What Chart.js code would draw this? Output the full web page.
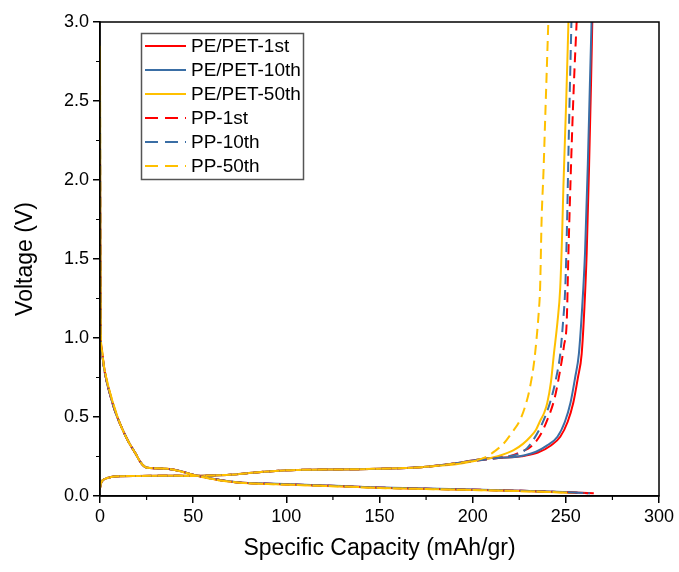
<!DOCTYPE html>
<html>
<head>
<meta charset="utf-8">
<script src="https://cdn.jsdelivr.net/npm/chart.js@4.4.1/dist/chart.umd.min.js"></script>
<style>
  html, body { margin: 0; padding: 0; background: #fff; }
  #wrap { width: 679px; height: 572px; }
</style>
</head>
<body>
<div id="wrap"><canvas id="cycles"></canvas></div>
<script>
// series names, as in the legend
var seriesLabels = ['PE/PET-1st', 'PE/PET-10th', 'PE/PET-50th', 'PP-1st', 'PP-10th', 'PP-50th'];

// x tick labels and y tick labels
var xTicks = [0, 50, 100, 150, 200, 250, 300];
var yTicks = [0.0, 0.5, 1.0, 1.5, 2.0, 2.5, 3.0];

// discharge curves, [capacity mAh/g, voltage V]
var pePet1stDis = [[0,2.25],[0.15,1.5],[0.4,1.02],[1,0.92],[2,0.83],[3.5,0.73],[5,0.66],[8,0.54],[11,0.45],[15,0.35],[19,0.27],[22,0.21],[25,0.18],[30,0.175],[38,0.17],[44,0.155],[50,0.135],[56,0.12],[65,0.1],[75,0.085],[90,0.078],[110,0.07],[130,0.062],[150,0.053],[175,0.046],[200,0.04],[225,0.033],[245,0.026],[265,0.017]];
var pePet10thDis = [[0,2.6],[0.15,1.6],[0.4,1.0],[1,0.91],[2,0.82],[3.5,0.73],[5,0.66],[8,0.54],[11,0.45],[15,0.35],[19,0.27],[22,0.21],[25,0.18],[30,0.175],[38,0.17],[44,0.155],[50,0.134],[56,0.12],[65,0.1],[75,0.086],[90,0.079],[110,0.071],[130,0.063],[150,0.054],[175,0.047],[200,0.041],[225,0.034],[245,0.027],[263,0.018]];
var pePet50thDis = [[0,2.85],[0.15,1.7],[0.4,1.03],[1,0.93],[2,0.83],[3.5,0.74],[5,0.67],[8,0.55],[11,0.45],[15,0.35],[19,0.27],[22,0.21],[25,0.18],[30,0.176],[38,0.17],[44,0.154],[50,0.133],[56,0.118],[65,0.098],[75,0.084],[90,0.076],[110,0.068],[130,0.06],[150,0.051],[175,0.044],[200,0.038],[225,0.031],[245,0.024],[255,0.02]];
var pp1stDis = [[0,2.2],[0.15,1.5],[0.4,1.0],[1,0.92],[2,0.82],[3.5,0.73],[5,0.66],[8,0.54],[11,0.45],[15,0.35],[19,0.27],[22,0.21],[25,0.18],[30,0.175],[38,0.17],[44,0.155],[50,0.135],[56,0.12],[65,0.1],[75,0.085],[90,0.078],[110,0.07],[130,0.062],[150,0.053],[175,0.046],[200,0.04],[225,0.033],[245,0.026],[262,0.018]];
var pp10thDis = [[0,2.5],[0.15,1.55],[0.4,1.0],[1,0.91],[2,0.82],[3.5,0.73],[5,0.66],[8,0.54],[11,0.45],[15,0.35],[19,0.27],[22,0.21],[25,0.18],[30,0.175],[38,0.17],[44,0.155],[50,0.134],[56,0.12],[65,0.1],[75,0.085],[90,0.078],[110,0.07],[130,0.062],[150,0.053],[175,0.046],[200,0.04],[225,0.033],[245,0.026],[260,0.019]];
var pp50thDis = [[0,2.8],[0.15,1.65],[0.4,1.02],[1,0.92],[2,0.83],[3.5,0.74],[5,0.67],[8,0.55],[11,0.45],[15,0.35],[19,0.27],[22,0.21],[25,0.18],[30,0.176],[38,0.17],[44,0.154],[50,0.133],[56,0.118],[65,0.098],[75,0.084],[90,0.076],[110,0.068],[130,0.06],[150,0.051],[175,0.044],[200,0.038],[225,0.031],[250,0.022]];

// charge curves, [capacity mAh/g, voltage V]
var pePet1stChg = [[0,0.05],[0.5,0.08],[1.5,0.1],[3,0.11],[6,0.12],[10,0.125],[20,0.127],[35,0.128],[50,0.127],[60,0.13],[70,0.135],[80,0.145],[90,0.155],[100,0.163],[120,0.167],[140,0.17],[160,0.175],[175,0.185],[190,0.205],[200,0.225],[210,0.24],[220,0.245],[228,0.255],[235,0.275],[242,0.32],[247,0.375],[251,0.47],[254,0.59],[256.5,0.75],[258.5,0.9],[260,1.2],[261.2,1.54],[262.5,2.1],[263.5,2.6],[264.2,3.0]];
var pePet10thChg = [[0,0.05],[0.5,0.08],[1.5,0.1],[3,0.11],[6,0.12],[10,0.125],[20,0.127],[35,0.128],[50,0.127],[60,0.13],[70,0.135],[80,0.145],[90,0.155],[100,0.163],[120,0.167],[140,0.17],[160,0.175],[175,0.185],[190,0.205],[200,0.225],[210,0.24],[221,0.245],[228,0.258],[234,0.28],[240,0.32],[245.5,0.375],[249.5,0.47],[252.5,0.59],[255,0.75],[257,0.9],[258.8,1.2],[260.3,1.54],[261.8,2.1],[262.9,2.6],[263.8,3.0]];
var pePet50thChg = [[0,0.05],[0.5,0.08],[1.5,0.1],[3,0.11],[6,0.12],[10,0.125],[20,0.127],[35,0.128],[50,0.127],[60,0.13],[70,0.135],[80,0.145],[90,0.155],[100,0.163],[120,0.167],[140,0.17],[160,0.176],[170,0.18],[180,0.19],[190,0.2],[198,0.215],[204,0.228],[213,0.25],[218,0.27],[222,0.29],[227,0.33],[231,0.375],[234,0.42],[236,0.47],[238.5,0.53],[240,0.587],[242,0.72],[243.6,0.9],[245.5,1.1],[247,1.32],[248,1.65],[248.7,1.96],[250.2,2.5],[251.4,3.0]];
var pp1stChg = [[0,0.05],[0.5,0.08],[1.5,0.1],[3,0.11],[6,0.12],[10,0.125],[20,0.127],[35,0.128],[50,0.127],[60,0.13],[70,0.135],[80,0.145],[90,0.155],[100,0.163],[120,0.167],[140,0.17],[160,0.175],[175,0.185],[190,0.205],[200,0.222],[210,0.235],[216,0.245],[222,0.26],[227,0.285],[231,0.31],[236,0.38],[240,0.48],[244,0.62],[247,0.8],[249,0.95],[250.5,1.11],[251.4,1.54],[253,2.17],[254.3,2.6],[255.8,3.0]];
var pp10thChg = [[0,0.05],[0.5,0.08],[1.5,0.1],[3,0.11],[6,0.12],[10,0.125],[20,0.127],[35,0.128],[50,0.127],[60,0.13],[70,0.135],[80,0.145],[90,0.155],[100,0.163],[120,0.167],[140,0.17],[160,0.175],[175,0.185],[190,0.205],[200,0.222],[210,0.235],[218,0.25],[225.5,0.27],[229,0.3],[232.5,0.354],[237,0.45],[241.5,0.59],[244.5,0.73],[247,0.9],[248.5,1.1],[249.7,1.32],[250.6,1.7],[251.4,2.17],[252.2,2.6],[253,3.0]];
var pp50thChg = [[0,0.05],[0.5,0.08],[1.5,0.1],[3,0.11],[6,0.12],[10,0.125],[20,0.127],[35,0.128],[50,0.127],[60,0.13],[70,0.135],[80,0.145],[90,0.155],[100,0.163],[120,0.167],[140,0.17],[160,0.176],[170,0.18],[180,0.19],[190,0.205],[200,0.222],[207.6,0.25],[212,0.285],[216.5,0.33],[221,0.4],[225.4,0.48],[228.5,0.58],[230.8,0.69],[233,0.85],[234.4,1.01],[235.5,1.17],[236.2,1.32],[237,1.75],[238,2.05],[238.9,2.38],[240.6,3.0]];

var discharges = [pePet1stDis, pePet10thDis, pePet50thDis, pp1stDis, pp10thDis, pp50thDis];
var charges = [pePet1stChg, pePet10thChg, pePet50thChg, pp1stChg, pp10thChg, pp50thChg];
var colors = ['#FF0000', '#3A6EA5', '#FFC000', '#FF0000', '#3A6EA5', '#FFC000'];
var dashes = [[], [], [], [10, 6], [10, 6], [10, 6]];

// discharge + gap + charge, one dataset per legend entry
function toPoints(dis, chg) {
  var pts = dis.map(function(p) {return {x: p[0], y: p[1]}});
  pts.push({x: null, y: null});
  return pts.concat(chg.map(function(p) {return {x: p[0], y: p[1]}}));
}

var FONT = '"Liberation Sans", Arial, sans-serif';

// minor ticks + frame around the plot
var framePlugin = {
  id: 'frame',
  afterDraw: function(chart) {
    var ctx = chart.ctx, a = chart.chartArea;
    var xs = chart.scales.x, ys = chart.scales.y;
    ctx.save();
    ctx.strokeStyle = '#000';
    ctx.lineWidth = 1.5;
    ctx.strokeRect(a.left, a.top, a.right - a.left, a.bottom - a.top);
    ctx.lineWidth = 1.2;
    ctx.beginPath();
    for (var i = 0; i < xTicks.length - 1; i++) {
      var px = xs.getPixelForValue((xTicks[i] + xTicks[i + 1]) / 2);
      ctx.moveTo(px, a.bottom);
      ctx.lineTo(px, a.bottom + 4);
    }
    for (var j = 0; j < yTicks.length - 1; j++) {
      var py = ys.getPixelForValue((yTicks[j] + yTicks[j + 1]) / 2);
      ctx.moveTo(a.left, py);
      ctx.lineTo(a.left - 4, py);
    }
    ctx.stroke();
    ctx.restore();
  }
};

// boxed legend inside the plot, top left
var legendPlugin = {
  id: 'boxLegend',
  afterDraw: function(chart) {
    var ctx = chart.ctx;
    var bx = 141.5, by = 33.5, bw = 162, bh = 146, row = 24, y0 = 46;
    ctx.save();
    ctx.fillStyle = '#fff';
    ctx.fillRect(bx, by, bw, bh);
    ctx.strokeStyle = '#555';
    ctx.lineWidth = 1.5;
    ctx.strokeRect(bx, by, bw, bh);
    ctx.font = '19px ' + FONT;
    ctx.textBaseline = 'middle';
    chart.data.datasets.forEach(function(ds, i) {
      var y = y0 + i * row;
      ctx.strokeStyle = ds.borderColor;
      ctx.lineWidth = 2;
      ctx.setLineDash(ds.borderDash.length ? [13, 7] : []);
      ctx.beginPath();
      ctx.moveTo(145, y);
      ctx.lineTo(186, y);
      ctx.stroke();
      ctx.setLineDash([]);
      ctx.fillStyle = '#000';
      ctx.fillText(ds.label, 191, y + 1);
    });
    ctx.restore();
  }
};

var chart = new Chart('cycles', {
  type: 'line',
  data: {
    datasets: seriesLabels.map(function(name, i) {
      return {
        label: name,
        data: toPoints(discharges[i], charges[i]),
        borderColor: colors[i],
        backgroundColor: colors[i],
        borderWidth: 2,
        borderDash: dashes[i],
        pointRadius: 0,
        fill: false,
        spanGaps: false,
        order: seriesLabels.length - i,
        cubicInterpolationMode: 'monotone'
      };
    })
  },
  options: {
    responsive: true,
    maintainAspectRatio: false,
    animation: false,
    layout: {padding: {left: 0, right: 20, top: 22, bottom: 0}},
    plugins: {legend: {display: false}, tooltip: {enabled: false}},
    scales: {
      x: {
        type: 'linear',
        min: 0,
        max: 300,
        afterFit: function(s) {s.height = 76},
        afterBuildTicks: function(s) {s.ticks = xTicks.map(function(v) {return {value: v}})},
        ticks: {color: '#000', font: {family: FONT, size: 18}, padding: 3, maxRotation: 0},
        grid: {drawOnChartArea: false, drawTicks: true, tickLength: 7, color: '#000', lineWidth: 1.5},
        border: {display: true, color: '#000', width: 1.5},
        title: {display: true, text: 'Specific Capacity (mAh/gr)', color: '#000',
                font: {family: FONT, size: 23}, padding: {top: 0, bottom: 10}}
      },
      y: {
        type: 'linear',
        min: 0,
        max: 3,
        afterFit: function(s) {s.width = 100},
        afterBuildTicks: function(s) {s.ticks = yTicks.map(function(v) {return {value: v}})},
        ticks: {color: '#000', font: {family: FONT, size: 18}, padding: 4,
                callback: function(v) {return Number(v).toFixed(1)}},
        grid: {drawOnChartArea: false, drawTicks: true, tickLength: 7, color: '#000', lineWidth: 1.5},
        border: {display: true, color: '#000', width: 1.5},
        title: {display: true, text: 'Voltage (V)', color: '#000',
                font: {family: FONT, size: 23}, padding: {top: 12, bottom: 0}}
      }
    }
  },
  plugins: [framePlugin, legendPlugin]
});
</script>
</body>
</html>
